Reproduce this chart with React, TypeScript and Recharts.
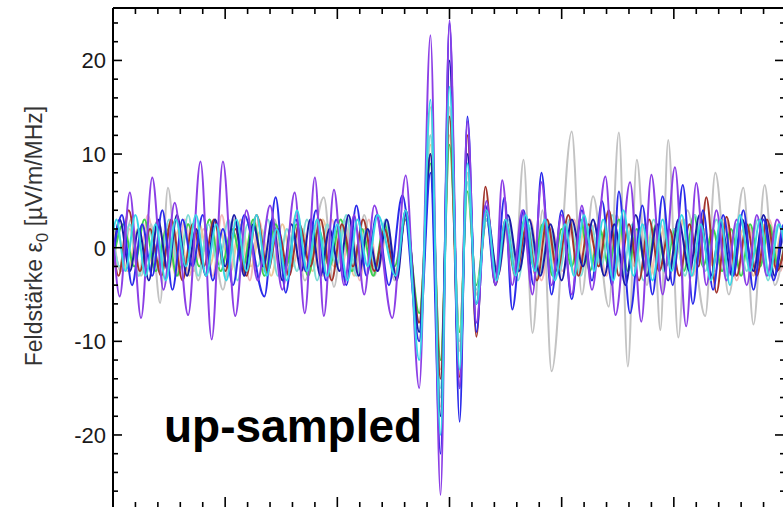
import { LineChart, Line, XAxis, YAxis, Label } from 'recharts'

type Pair = [number, number]

// time axis (arbitrary units, labels are cut off in the original), minor ticks every 2
const timeTicks = [0, 2, 4, 6, 8, 10, 12, 14, 16, 18, 20, 22, 24, 26, 28, 30, 32, 34, 36, 38, 40, 42, 44, 46, 48, 50, 52, 54, 56, 58, 60]
// field strength axis, minor ticks every 2, labels every 10
const fieldTicks = [-26, -24, -22, -20, -18, -16, -14, -12, -10, -8, -6, -4, -2, 0, 2, 4, 6, 8, 10, 12, 14, 16, 18, 20, 22, 24]
const fieldLabels = [-20, -10, 0, 10, 20]

// extrema: [time, field strength]
const purpleTrace: Pair[] = [
  [0, 1.5], [0.6, -5.2], [1.5, 5.9], [2.5, -7.5], [3.5, 7.5], [4.5, -4.5], [5.5, 4.8], [6.7, -7.2], [7.8, 9.2], [8.8, -9.8],
  [9.8, 9.2], [10.9, -7.3], [11.9, 4], [12.9, -3.5], [14, 4.5], [15.1, -4.5], [16.2, 5.9], [17.1, -7], [18, 7.5], [18.8, -7.3],
  [19.7, 6.2], [20.6, -4], [21.5, 3.5], [22.4, -5], [23.3, 4.5], [24.9, -7.5], [26.1, 7.7], [27.3, -15], [28.3, 22.7], [29.2, -26.4],
  [30, 24.3], [30.9, -15], [31.6, 13.5], [32.4, -8], [33.3, 5], [34.1, -4], [34.7, 7.2], [35.6, -4], [36.5, 4], [37.4, -5],
  [38.2, 7], [39.1, -4], [40, 3.5], [40.9, -5], [41.8, 4.5], [42.7, -4.5], [43.9, 7.6], [44.8, -7.2], [46.1, 7], [47.1, -7.9],
  [48, 7.8], [49, -5], [50.1, 8.6], [51.1, -8.4], [52, 6.9], [52.9, -4], [53.8, 4], [54.7, -3.5], [55.6, 3], [56.5, -4],
  [57.4, 3.5], [58.3, -3], [59.2, 3], [60, -1],
]

const blueTrace: Pair[] = [
  [0, -1], [0.8, 3.5], [1.7, -4], [2.6, 2.5], [3.5, -3], [4.4, 4], [5.3, -4.5], [6.2, 3], [7.1, -2], [8, 3.5],
  [8.9, -3.5], [9.8, 2], [10.7, -4], [11.7, 3.5], [13.5, -5.2], [14.5, 5.4], [15.4, -4.8], [16.3, 3], [17.2, -2.5], [18.1, 4],
  [19, -3.5], [19.9, 3], [20.8, -4], [21.7, 4.5], [22.6, -3], [23.5, 3.5], [24.6, -4], [25.8, 5.6], [27.3, -10], [28.3, 8],
  [29.2, -22], [30, 24], [30.9, -18.6], [31.6, 14], [32.4, -9], [33.2, 4.5], [34.1, -4], [34.9, 5.4], [35.6, -6.6], [36.6, 4],
  [37.5, -4], [38.2, 8], [39.1, -5], [40, 4], [40.9, -5.5], [41.8, 4], [42.7, -3.5], [43.6, 5], [44.5, -4], [45.1, 6],
  [46.1, -7], [47.2, 4.5], [48.1, -5], [49, 5.5], [49.9, -4], [50.8, 6.7], [51.7, -6], [52.6, 4], [53.5, -4.5], [54.4, 3.5],
  [55.3, -3], [56.2, 4], [57.1, -4.5], [58, 3], [58.9, -3.5], [59.8, 2.5], [60, 2],
]

const navyTrace: Pair[] = [
  [0, -1], [0.6, 3], [1.5, -2.5], [2.3, 2], [3.2, -3.5], [4, 3], [4.9, -2.5], [5.7, 3.5], [6.6, -3], [7.4, 2],
  [8.3, -3], [9.1, 3], [10, -2], [10.8, 3.5], [11.7, -3], [12.5, 2.5], [13.4, -2], [14.2, 3], [15.1, -3.5], [15.9, 2.5],
  [16.8, -2.5], [17.6, 3], [18.5, -3], [19.3, 2], [20.2, -2.5], [21, 3.5], [21.9, -3], [22.7, 2], [23.6, -2.5], [24.4, 3],
  [25.3, -3.5], [26.1, 4], [27.3, -9], [28.3, 10], [29.2, -18], [30, 20], [30.9, -15], [31.6, 10], [32.4, -6], [33.3, 4],
  [34.3, -3], [35.2, 3.5], [36.2, -2.5], [37.1, 3], [38.1, -3], [39, 2.5], [40, -3.5], [40.9, 3], [41.9, -2], [42.8, 3],
  [43.8, -3], [44.7, 2.5], [45.7, -4], [46.6, 3.5], [47.6, -3], [48.5, 2.5], [49.5, -3.5], [50.4, 3], [51.4, -2.5], [52.3, 3.5],
  [53.3, -3], [54.2, 2.5], [55.2, -3], [56.1, 3], [57.1, -2.5], [58, 3.5], [59, -3], [59.9, 2], [60, 1.5],
]

const cyanTrace: Pair[] = [
  [0, 1.5], [0.3, 3], [1.1, -2.5], [2, 3.5], [2.9, -3], [3.8, 2.5], [4.7, -3.5], [5.6, 3], [6.5, -2], [7.4, 3.5],
  [8.3, -3], [9.2, 2.5], [10.1, -3.5], [11, 3], [11.9, -2.5], [12.8, 3.5], [13.7, -3], [14.6, 2], [15.5, -3.5], [16.4, 4],
  [17.3, -2.5], [18.2, 3], [19.1, -3], [20, 2.5], [20.9, -3.5], [21.8, 3], [22.7, -2], [23.6, 3.5], [25.2, -3], [26.1, 4],
  [27.3, -12], [28.3, 15.8], [29.2, -20], [30, 17.2], [30.9, -13], [31.6, 9], [32.4, -6], [33.3, 4], [34.2, -3.5], [35, 3],
  [35.9, -3], [36.8, 3.5], [37.6, -2.5], [38.5, 3], [39.4, -3.5], [40.3, 2.5], [41.1, -3], [42, 3.5], [42.9, -2.5], [43.7, 3],
  [44.6, -3.5], [45.5, 4], [46.4, -3], [47.2, 2.5], [48.1, -3.5], [49, 3], [49.8, -2.5], [50.7, 3.5], [51.6, -3], [52.4, 2.5],
  [53.3, -3.5], [54.2, 3], [55, -4], [55.9, 3.5], [56.8, -2.5], [57.7, 3], [58.5, -3], [59.4, 2.5], [60, -1],
]

const turquoiseTrace: Pair[] = [
  [0, 1], [0.6, -2], [1.5, 2.5], [2.3, -3], [3.2, 2], [4.1, -2.5], [5, 3], [5.9, -2], [6.7, 3.5], [7.6, -3],
  [8.5, 2.5], [9.4, -2], [10.3, 3], [11.1, -3.5], [12, 2.5], [12.9, -2], [13.8, 3], [14.7, -3], [15.5, 2], [16.4, -2.5],
  [17.3, 3], [18.2, -3.5], [19.1, 2.5], [19.9, -2], [20.8, 3.5], [21.7, -3], [22.6, 2], [23.5, -2.5], [24.3, 3], [25.2, -3],
  [26.1, 3.5], [27.3, -9], [28.3, 12], [29.2, -15], [30, 14], [30.9, -10], [31.6, 7], [32.4, -4.5], [33.3, 3], [34.2, -2.5],
  [35.2, 3], [36.1, -3.5], [37, 2.5], [38, -3], [38.9, 2], [39.8, -2.5], [40.7, 3], [41.7, -3], [42.6, 2.5], [43.5, -2],
  [44.5, 3.5], [45.4, -3], [46.3, 2.5], [47.3, -3.5], [48.2, 3], [49.1, -2.5], [50, 2], [51, -3], [51.9, 3.5], [52.8, -2.5],
  [53.8, 3], [54.7, -3], [55.6, 2.5], [56.5, -2.5], [57.5, 3], [58.4, -3.5], [59.3, 2.5], [60, -1],
]

const greyTrace: Pair[] = [
  [0, 1], [0.7, -2.5], [1.6, 3], [2.5, -3], [3.4, 2.5], [4.2, -5.9], [4.9, 6.4], [5.8, -3], [6.7, 2.5], [7.6, -3.5],
  [8.6, 3], [9.8, -4.5], [10.8, 3], [11.7, -3], [12.6, 2], [13.5, -2.5], [14.4, 3], [15.3, -3], [16.2, 2.5], [17.1, -3.5],
  [18.8, 5.4], [19.7, -4.2], [20.6, 3], [21.5, -2.5], [22.4, 3.5], [23.3, -3], [24.2, 2.5], [25.1, -3.5], [26.1, 4], [27.3, -8],
  [28.3, 12], [29.2, -16], [30, 15], [30.9, -11], [31.6, 8], [32.4, -5], [33.3, 3.5], [34.2, -3], [35.1, 2.5], [35.8, -3],
  [36.6, 9.4], [37.4, -9.1], [38.3, 4], [39.1, -13.2], [40.9, 12.4], [41.8, -5], [42.8, 5.5], [44.2, -6.3], [45.1, 12.3], [45.9, -12.7],
  [46.7, 9.4], [47.6, -4], [48.2, 2], [48.8, -8.8], [49.5, 11.5], [50.4, -9.6], [51.2, 4], [52.8, -7.3], [53.7, 8], [54.9, -5],
  [56.2, 6.4], [57.1, -8.2], [58.1, 6.7], [59, -4], [60, 2],
]

const brownTrace: Pair[] = [
  [0, 0], [0.5, -3], [1.4, 4], [2.4, -2.5], [3.3, 2], [4.3, -3], [5.2, 3], [6.2, -3.5], [7.1, 2.5], [8.1, -2],
  [9, 3], [10, -2.5], [10.9, 2], [11.9, -3], [12.8, 3.5], [13.8, -2.5], [14.7, 2], [15.7, -3], [16.6, 2.5], [17.6, -2],
  [18.5, 3], [19.5, -3.5], [20.4, 2.5], [21.4, -2], [22.3, 3], [23.3, -2.5], [24.2, 2], [25.2, -3], [26.1, 3.5], [27.3, -8],
  [28.3, 10], [29.2, -14], [30, 14], [30.9, -13.8], [31.6, 12], [32.4, -9.5], [33.2, 6.5], [34.1, -4], [35, 3], [35.9, -3],
  [36.9, 2.5], [37.8, -3.5], [38.7, 3], [39.6, -2.5], [40.6, 3.5], [41.5, -3], [42.4, 2.5], [43.3, -2], [44.2, 4], [45.1, -3],
  [46, 2.5], [46.9, -3.5], [47.8, 3], [48.7, -2.5], [49.6, 2], [50.5, -3], [51.4, 2.5], [52.2, -2], [52.9, 5.4], [53.8, -4.8],
  [54.7, 3.3], [55.6, -3], [56.5, 2.5], [57.4, -3], [58.3, 3], [59.2, -2.5], [60, 1],
]

const greenTrace: Pair[] = [
  [0, -1.5], [0.9, 2.5], [1.9, -2], [2.8, 3], [3.8, -2.5], [4.8, 2], [5.7, -3], [6.7, 2.5], [7.7, -2], [8.6, 3],
  [9.6, -2.5], [10.6, 2], [11.6, -2], [12.5, 3], [13.5, -3], [14.5, 2.5], [15.4, -2], [16.4, 2.5], [17.4, -3], [18.3, 2],
  [19.3, -2], [20.3, 3], [21.3, -2.5], [22.2, 2], [23.2, -3], [24.2, 2.5], [25.1, -2], [26.1, 3], [27.3, -7], [28.3, 9],
  [29.2, -12], [30, 11], [30.9, -9], [31.6, 6], [32.4, -4], [33.3, 3], [34.1, -2.5], [35, 2], [35.8, -2.5], [36.7, 3],
  [37.5, -2], [38.3, 2.5], [39.2, -3], [40, 2], [40.9, -2], [41.7, 3], [42.5, -2.5], [43.4, 2], [44.2, -2], [45.1, 3],
  [45.9, -2.5], [46.7, 2], [47.6, -3], [48.4, 2.5], [49.3, -2], [50.1, 2], [50.9, -2.5], [51.8, 3.5], [52.6, -2], [53.5, 2],
  [54.3, -2.5], [55.1, 2], [56, -3], [56.8, 2.5], [57.7, -2], [58.5, 2.5], [59.3, -2], [60, 1],
]

const pinkTrace: Pair[] = [
  [0, 1.5], [0.7, -2.5], [1.5, 2], [2.3, -3], [3.1, 3.5], [4, -2], [4.8, 2.5], [5.6, -3], [6.4, 3], [7.2, -2.5],
  [8.1, 2], [8.9, -3], [9.7, 3.5], [10.5, -2], [11.3, 2.5], [12.2, -3.5], [13, 3], [13.8, -2], [14.6, 2], [15.4, -3],
  [16.3, 3.5], [17.1, -2.5], [17.9, 2], [18.7, -3], [19.5, 3], [20.4, -2], [21.2, 2.5], [22, -3.5], [22.8, 3], [23.6, -2.5],
  [24.5, 2], [25.3, -3], [26.1, 4], [27.3, -10], [28.3, 15], [29.2, -17], [30, 15], [30.9, -11], [31.6, 8], [32.4, -5],
  [33.3, 3], [34.3, -3], [35.2, 2.5], [36.2, -2], [37.2, 3], [38.2, -3.5], [39.1, 2], [40.1, -2.5], [41.1, 3], [42, -2],
  [43, 2.5], [44, -3], [44.9, 3.5], [45.9, -2.5], [46.9, 2], [47.9, -3], [48.8, 2.5], [49.8, -2], [50.8, 3], [51.7, -3],
  [52.7, 2], [53.7, -2.5], [54.6, 3], [55.6, -3.5], [56.6, 2.5], [57.6, -2], [58.5, 3], [59.5, -2.5], [60, 1],
]

const tanTrace: Pair[] = [
  [0, 1], [0.3, 2], [1.3, -2.5], [2.2, 2], [3.1, -2], [4, 3], [4.9, -2.5], [5.9, 2], [6.8, -3], [7.7, 2.5],
  [8.6, -2], [9.5, 2], [10.5, -2.5], [11.4, 3], [12.3, -2], [13.2, 2], [14.1, -3], [15.1, 2.5], [16, -2], [16.9, 2],
  [17.8, -2.5], [18.7, 3], [19.7, -2], [20.6, 2.5], [21.5, -3], [22.4, 2], [23.3, -2], [24.3, 2.5], [25.2, -2.5], [26.1, 3],
  [27.3, -8], [28.3, 11], [29.2, -13], [30, 12], [30.9, -9], [31.6, 7], [32.4, -5], [33.3, 3], [34.2, -2], [35.1, 2.5],
  [35.9, -3], [36.8, 2], [37.7, -2], [38.6, 3], [39.5, -2.5], [40.3, 2], [41.2, -3], [42.1, 2.5], [43, -2], [43.9, 2],
  [44.7, -2.5], [45.6, 3], [46.5, -2], [47.4, 2.5], [48.3, -3], [49.1, 2], [50, -2], [50.9, 3], [51.8, -2.5], [52.7, 2],
  [53.5, -2], [54.4, 3], [55.3, -2.5], [56.2, 2], [57.1, -3], [57.9, 2.5], [58.8, -2], [59.7, 2], [60, 0.5],
]

// drawing order: light traces first
const traces = [
  { name: 'pink', color: '#f3b8b8', pairs: pinkTrace },
  { name: 'tan', color: '#ebc79c', pairs: tanTrace },
  { name: 'grey', color: '#c3c3c3', pairs: greyTrace },
  { name: 'green', color: '#3cd24f', pairs: greenTrace },
  { name: 'turquoise', color: '#7fdcd6', pairs: turquoiseTrace },
  { name: 'brown', color: '#a3352d', pairs: brownTrace },
  { name: 'navy', color: '#1a1aa8', pairs: navyTrace },
  { name: 'blue', color: '#2b2bea', pairs: blueTrace },
  { name: 'purple', color: '#8c3fe6', pairs: purpleTrace },
  { name: 'cyan', color: '#36d6e6', pairs: cyanTrace },
]

const toPoints = (pairs: Pair[]) => pairs.map(([t, v]) => ({ t, v }))

const FONT = '"Liberation Sans", Arial, Helvetica, sans-serif'

// ticks point into the plot on all four sides
const LeftTick = (props: any) => {
  const { x, y, payload } = props
  const major = payload.value % 10 === 0
  return (
    <g>
      <line x1={x} x2={x + (major ? 9 : 5)} y1={y} y2={y} stroke="#000" strokeWidth={1.6} />
      {fieldLabels.includes(payload.value) && (
        <text x={x - 7} y={y} dy="0.36em" textAnchor="end" fontSize={22} fontFamily={FONT} fill="#1a1a1a">
          {payload.value}
        </text>
      )}
    </g>
  )
}

const RightTick = (props: any) => {
  const { x, y, payload } = props
  const major = payload.value % 10 === 0
  return <line x1={x} x2={x - (major ? 11 : 6)} y1={y} y2={y} stroke="#000" strokeWidth={1.6} />
}

const BottomTick = (props: any) => {
  const { x, y, payload } = props
  const major = payload.value % 10 === 0
  return <line x1={x} x2={x} y1={y} y2={y - (major ? 11 : 6)} stroke="#000" strokeWidth={1.6} />
}

const TopTick = (props: any) => {
  const { x, y, payload } = props
  const major = payload.value % 10 === 0
  return <line x1={x} x2={x} y1={y} y2={y + (major ? 11 : 6)} stroke="#000" strokeWidth={1.6} />
}

const YTitle = (props: any) => {
  const { viewBox } = props
  const cx = viewBox.x + 42
  const cy = viewBox.y + 228
  return (
    <text
      transform={`translate(${cx}, ${cy}) rotate(-90)`}
      textAnchor="middle"
      fontSize={23}
      fontFamily={FONT}
      fill="#333"
    >
      Feldstärke ε
      <tspan dy={6} fontSize={17}>0</tspan>
      <tspan dy={-6}> [µV/m/MHz]</tspan>
    </text>
  )
}

const axisLine = { stroke: '#000', strokeWidth: 2 }

export default function App() {
  return (
    <div
      style={{
        position: 'absolute',
        left: 0,
        top: 0,
        width: 783,
        height: 507,
        overflow: 'hidden',
        background: '#fff',
      }}
    >
      <LineChart width={790} height={520} margin={{ top: 7, right: 3, bottom: 11, left: 0 }}>
        <XAxis
          dataKey="t"
          type="number"
          domain={[0, 60]}
          allowDataOverflow
          ticks={timeTicks}
          interval={0}
          height={1}
          tickSize={0}
          tickMargin={0}
          tick={<BottomTick />}
          tickLine={false}
          axisLine={axisLine}
        />
        <XAxis
          xAxisId="top"
          orientation="top"
          dataKey="t"
          type="number"
          domain={[0, 60]}
          allowDataOverflow
          ticks={timeTicks}
          interval={0}
          height={1}
          tickSize={0}
          tickMargin={0}
          tick={<TopTick />}
          tickLine={false}
          axisLine={axisLine}
        />
        <YAxis
          type="number"
          domain={[-27.8, 25.6]}
          allowDataOverflow
          ticks={fieldTicks}
          interval={0}
          width={113}
          tickSize={0}
          tickMargin={0}
          tick={<LeftTick />}
          tickLine={false}
          axisLine={axisLine}
        >
          <Label content={<YTitle />} />
        </YAxis>
        <YAxis
          yAxisId="right"
          orientation="right"
          type="number"
          domain={[-27.8, 25.6]}
          allowDataOverflow
          ticks={fieldTicks}
          interval={0}
          width={1}
          tickSize={0}
          tickMargin={0}
          tick={<RightTick />}
          tickLine={false}
          axisLine={axisLine}
        />
        {traces.map((tr) => (
          <Line
            key={tr.name}
            data={toPoints(tr.pairs)}
            dataKey="v"
            type="monotone"
            stroke={tr.color}
            strokeWidth={2}
            dot={false}
            activeDot={false}
            isAnimationActive={false}
          />
        ))}
      </LineChart>
      <div
        style={{
          position: 'absolute',
          left: 164,
          top: 403,
          fontFamily: FONT,
          fontWeight: 700,
          fontSize: 46,
          lineHeight: '46px',
          color: '#000',
          whiteSpace: 'nowrap',
        }}
      >
        up-sampled
      </div>
    </div>
  )
}
